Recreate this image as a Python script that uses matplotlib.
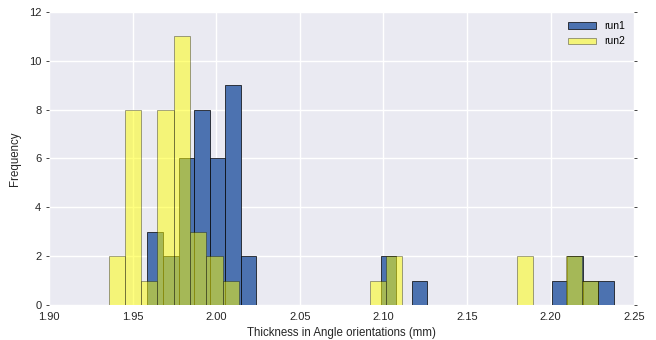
"""
Histogram of thickness in angle orientations, run1 vs run2.
"""

import matplotlib
matplotlib.use("Agg")
import matplotlib.pyplot as plt
import numpy as np

# bin counts (30 bins each)
run1_counts = [3, 2, 6, 8, 6, 9, 2, 0, 0, 0,
               0, 0, 0, 0, 0, 2, 0, 1, 0, 0,
               0, 0, 0, 0, 0, 0, 1, 2, 1, 1]
run2_counts = [2, 8, 1, 8, 11, 3, 2, 1, 0, 0,
               0, 0, 0, 0, 0, 0, 1, 2, 0, 0,
               0, 0, 0, 0, 0, 2, 0, 0, 2, 1]
run1_range = (1.9589, 2.2379)
run2_range = (1.9356, 2.2285)
xticks = [1.90, 1.95, 2.00, 2.05, 2.10, 2.15, 2.20, 2.25]
yticks = [0, 2, 4, 6, 8, 10, 12]

plt.rcParams["font.family"] = ["Liberation Sans", "DejaVu Sans"]

fig = plt.figure(figsize=(6.56, 3.4), dpi=100)
ax = fig.add_axes([0.0747, 0.103, 0.892, 0.862])
ax.set_facecolor("#eaeaf2")
for s in ax.spines.values():
    s.set_visible(False)
ax.grid(True, color="white", linewidth=1)
ax.set_axisbelow(True)


def draw(counts, rng, color, alpha, label):
    edges = np.linspace(rng[0], rng[1], len(counts) + 1)
    centers = (edges[:-1] + edges[1:]) / 2
    ax.hist(centers, bins=edges, weights=counts, color=color, alpha=alpha,
            edgecolor="black", linewidth=0.5, label=label)


draw(run1_counts, run1_range, "#4c72b0", 1.0, "run1")
draw(run2_counts, run2_range, "#ffff00", 0.5, "run2")

ax.set_xlim(1.90, 2.25)
ax.set_ylim(0, 12)
ax.set_xticks(xticks)
ax.set_xticklabels([f"{t:.2f}" for t in xticks])
ax.set_yticks(yticks)
ax.tick_params(axis="both", labelsize=8, colors="#262626", length=2,
               width=0.6, pad=3.5)
ax.tick_params(axis="x", length=0, pad=5)
ax.tick_params(axis="y", right=True)
ax.set_xlabel("Thickness in Angle orientations (mm)", fontsize=8.3,
              color="#262626", labelpad=4)
ax.set_ylabel("Frequency", fontsize=8.3, color="#262626", labelpad=6)

ax.legend(loc="upper right", fontsize=7.5, frameon=False, handlelength=2.6,
          handleheight=0.6, handletextpad=0.8, labelspacing=0.5,
          borderaxespad=0.5)

fig.savefig("out.png", dpi=100)
plt.close(fig)
